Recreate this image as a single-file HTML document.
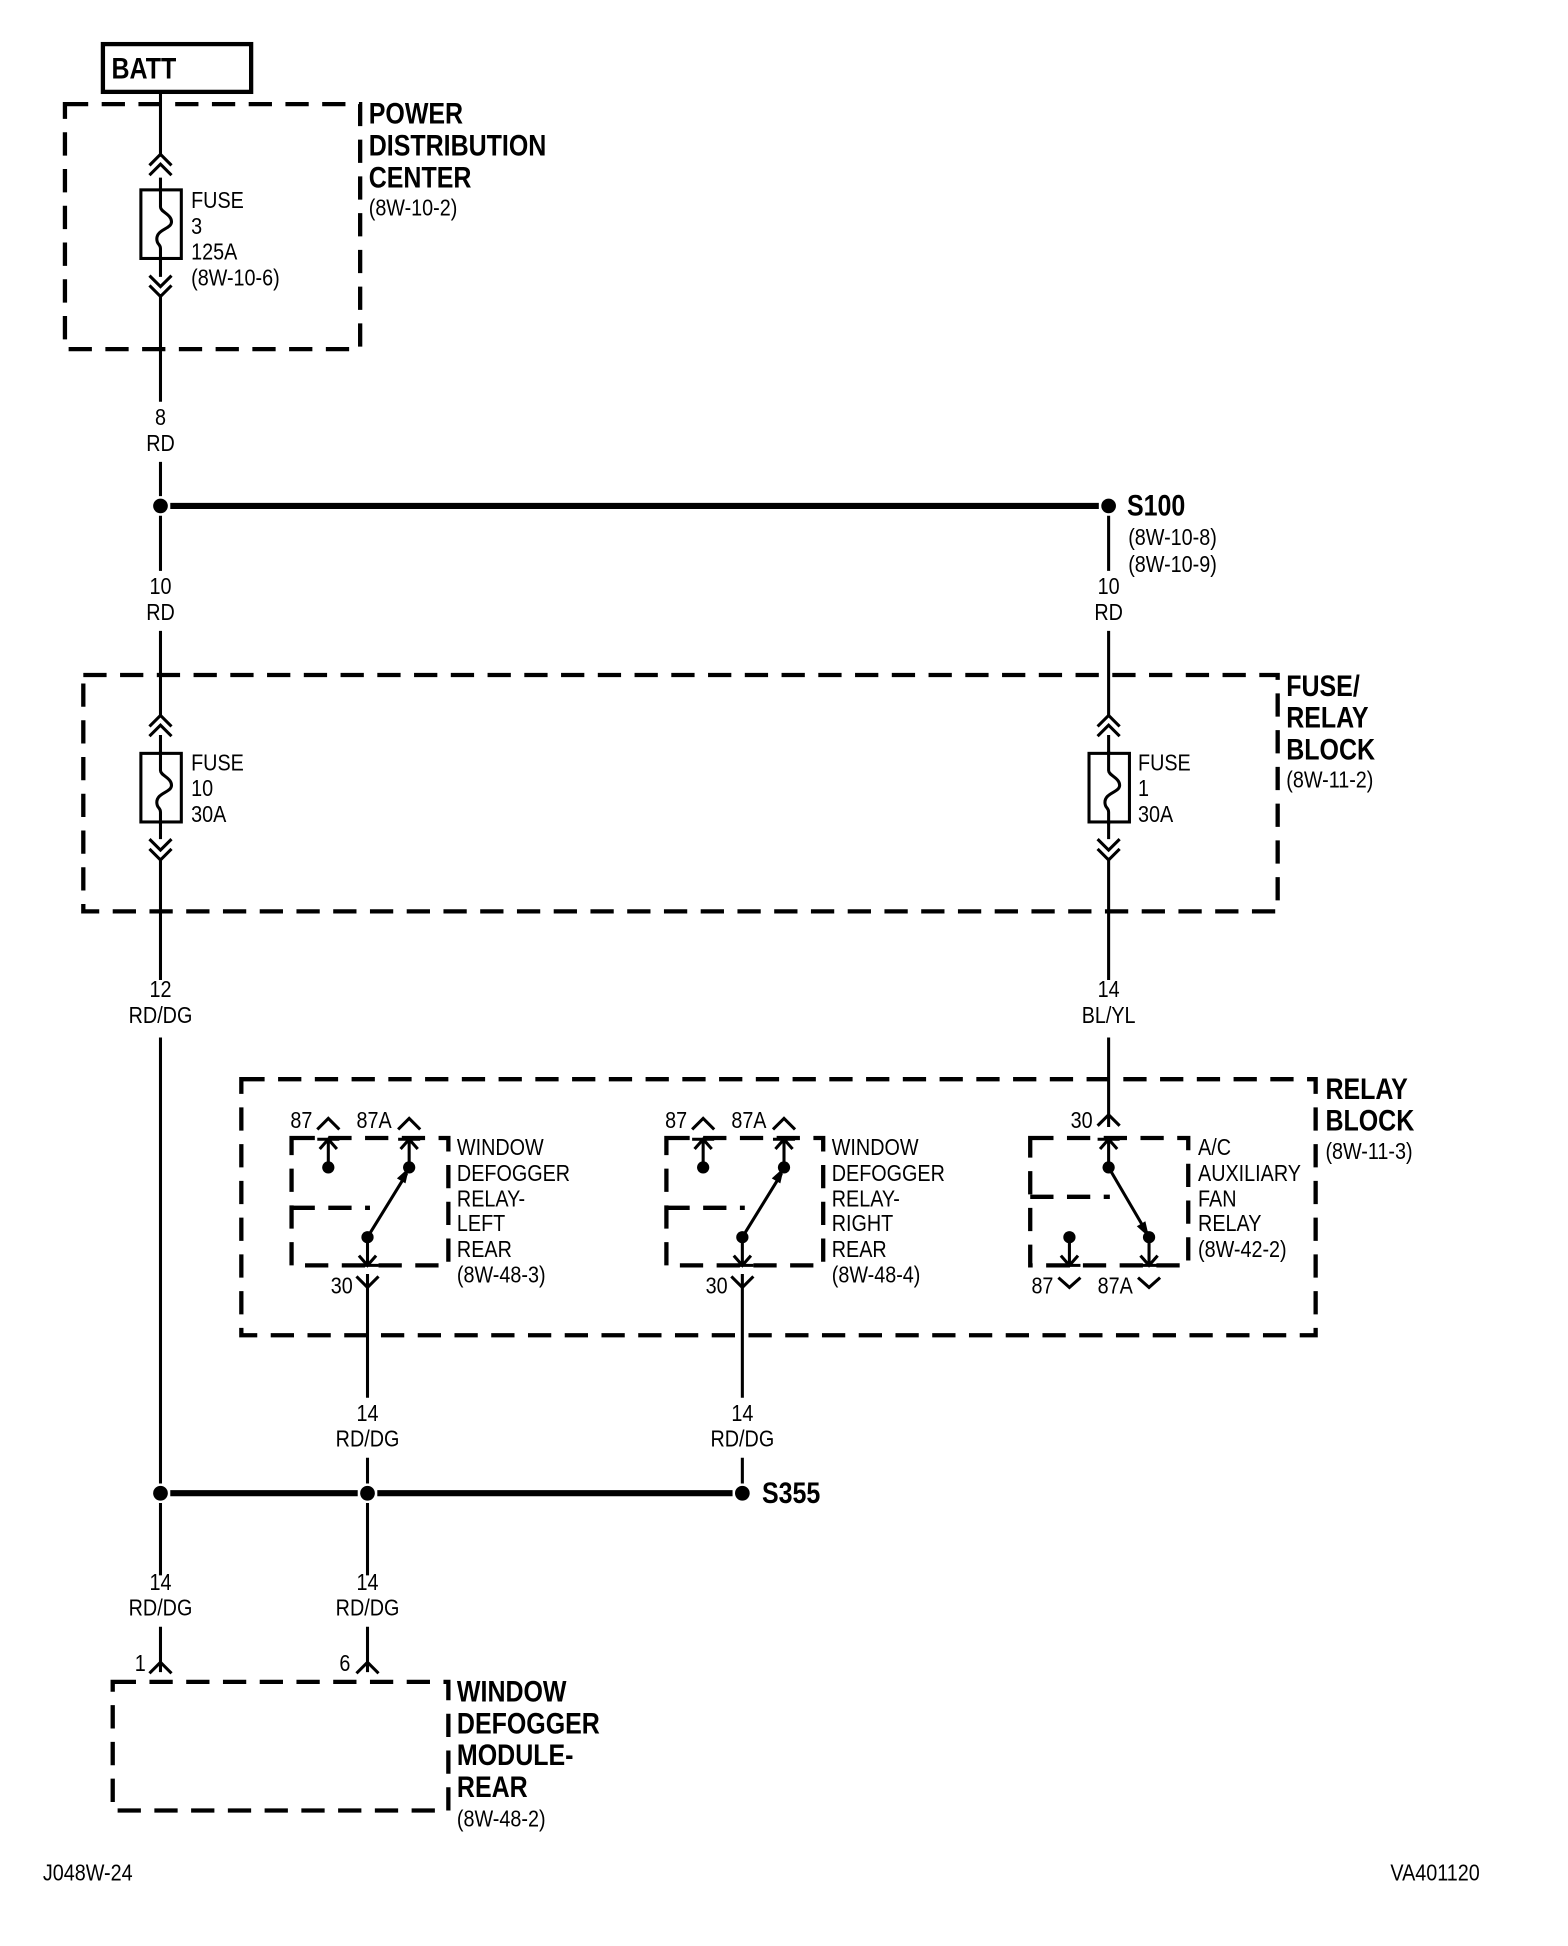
<!DOCTYPE html>
<html><head><meta charset="utf-8"><style>
html,body{margin:0;padding:0;background:#fff}
svg{display:block}
text{font-family:"Liberation Sans",Arial,sans-serif;fill:#000}
.s{font-size:19px}
.b{font-size:24px;font-weight:bold}
</style></head><body>
<svg width="1568" height="1946" viewBox="0 0 1280 1588.6" xmlns="http://www.w3.org/2000/svg">
<defs>
<g id="uu"><path d="M-9,9 L0,0 L9,9 M-9,17 L0,8 L9,17" fill="none" stroke="#000" stroke-width="2.5"/></g>
<g id="dd"><path d="M-9,-9 L0,0 L9,-9 M-9,-17 L0,-8 L9,-17" fill="none" stroke="#000" stroke-width="2.5"/></g>
<g id="fuse"><rect x="-16" y="0" width="33" height="56" fill="none" stroke="#000" stroke-width="2.5"/>
<path d="M0,-2 L0,14 C0,18 9,20 9,26 C9,32 -3,32 -3,40 C-3,45 0,44 0,48 L0,58" fill="none" stroke="#000" stroke-width="2.5"/></g>
</defs>
<g stroke="#000" fill="none">
<!-- BATT -->
<rect x="84" y="36" width="121" height="39" stroke-width="3.5"/>
<g stroke-width="3.5" stroke-dasharray="19,11">
<rect x="53" y="85" width="241" height="200"/>
<rect x="68" y="551" width="975" height="193"/>
<rect x="197" y="881" width="877" height="209"/>
<rect x="92" y="1373" width="274" height="105"/>
<rect x="238" y="929" width="128" height="104"/>
<rect x="544" y="929" width="128" height="104"/>
<rect x="841" y="929" width="129" height="104"/>
<path d="M238,986 H302 M544,986 H608 M841,977 H906"/>
</g>
<g stroke-width="2.5">
<!-- left main wire -->
<path d="M131,75 V128 M131,145 V155 M131,210 V226 M131,240 V328 M131,377 V405 M131,421 V466 M131,515 V584 M131,600 V616 M131,670 V685 M131,700 V800 M131,847 V1211 M131,1227 V1286 M131,1328 V1365"/>
<!-- right wire -->
<path d="M905,421 V466 M905,515 V584 M905,600 V616 M905,670 V685 M905,700 V800 M905,847 V920"/>
<!-- relay outputs -->
<path d="M300,1040 V1141 M300,1190 V1211 M300,1227 V1286 M300,1328 V1365 M606,1040 V1141 M606,1190 V1211"/>
</g>
<path d="M139,413 H897 M139,1219 H292 M308,1219 H598" stroke-width="5"/>
</g>
<g fill="#000">
<circle cx="131" cy="413" r="6"/><circle cx="905" cy="413" r="6"/>
<circle cx="131" cy="1219" r="6"/><circle cx="300" cy="1219" r="6"/><circle cx="606" cy="1219" r="6"/>
</g>
<!-- fuses -->
<use href="#uu" x="131" y="126"/><use href="#fuse" x="131" y="155"/><use href="#dd" x="131" y="242"/>
<use href="#uu" x="131" y="584"/><use href="#fuse" x="131" y="615"/><use href="#dd" x="131" y="702"/>
<use href="#uu" x="905" y="584"/><use href="#fuse" x="905" y="615"/><use href="#dd" x="905" y="702"/>

<!-- relay symbols -->
<g stroke="#000" stroke-width="2.5" fill="none">
<!-- left relay: pins -->
<path d="M259,922 L268,913 L277,922 M325,922 L334,913 L343,922"/>
<path d="M259,930 H277 M268,930 V953 M261,938 L268,930 L275,938 M325,930 H343 M334,930 V953 M327,938 L334,930 L341,938"/>
<path d="M300,1010 L332,958 M300,1010 V1033 M291,1033 H309 M293,1025 L300,1033 L307,1025 M291,1042 L300,1051 L309,1042"/>
<!-- middle relay -->
<path d="M565,922 L574,913 L583,922 M631,922 L640,913 L649,922"/>
<path d="M565,930 H583 M574,930 V953 M567,938 L574,930 L581,938 M631,930 H649 M640,930 V953 M633,938 L640,930 L647,938"/>
<path d="M606,1010 L638,958 M606,1010 V1033 M597,1033 H615 M599,1025 L606,1033 L613,1025 M597,1042 L606,1051 L615,1042"/>
<!-- AC relay -->
<path d="M896,919 L905,910 L914,919 M896,930 H914 M905,930 V953 M898,938 L905,930 L912,938"/>
<path d="M905,953 L936,1006 M873,1010 V1033 M864,1033 H882 M866,1025 L873,1033 L880,1025 M938,1010 V1033 M929,1033 H947 M931,1025 L938,1033 L945,1025"/>
<path d="M864,1043 L873,1051 L882,1043 M929,1043 L938,1051 L947,1043"/>
<!-- module pins -->
<path d="M122,1366 L131,1357 L140,1366 M291,1366 L300,1357 L309,1366"/>
</g>
<g fill="#000">
<circle cx="268" cy="953" r="5"/><circle cx="334" cy="953" r="5"/><circle cx="300" cy="1010" r="5"/>
<path d="M334,953 L324,962 L331,966 Z"/>
<circle cx="574" cy="953" r="5"/><circle cx="640" cy="953" r="5"/><circle cx="606" cy="1010" r="5"/>
<path d="M640,953 L630,962 L637,966 Z"/>
<circle cx="905" cy="953" r="5"/><circle cx="873" cy="1010" r="5"/><circle cx="938" cy="1010" r="5"/>
<path d="M938,1010 L928,1001 L935,997 Z"/>
</g>

<!-- text -->
<g class="b">
<text transform="translate(91,64) scale(.85,1)">BATT</text>
<text transform="translate(301,101) scale(.85,1)">POWER</text>
<text transform="translate(301,127) scale(.85,1)">DISTRIBUTION</text>
<text transform="translate(301,153) scale(.85,1)">CENTER</text>
<text transform="translate(920,421) scale(.85,1)">S100</text>
<text transform="translate(1050,568) scale(.85,1)">FUSE/</text>
<text transform="translate(1050,594) scale(.85,1)">RELAY</text>
<text transform="translate(1050,620) scale(.85,1)">BLOCK</text>
<text transform="translate(1082,897) scale(.85,1)">RELAY</text>
<text transform="translate(1082,923) scale(.85,1)">BLOCK</text>
<text transform="translate(622,1227) scale(.85,1)">S355</text>
<text transform="translate(373,1389) scale(.85,1)">WINDOW</text>
<text transform="translate(373,1415) scale(.85,1)">DEFOGGER</text>
<text transform="translate(373,1441) scale(.85,1)">MODULE-</text>
<text transform="translate(373,1467) scale(.85,1)">REAR</text>
</g>
<g class="s">
<text transform="translate(301,176) scale(.85,1)">(8W-10-2)</text>
<text transform="translate(156,170) scale(.85,1)">FUSE</text>
<text transform="translate(156,191) scale(.85,1)">3</text>
<text transform="translate(156,212) scale(.85,1)">125A</text>
<text transform="translate(156,233) scale(.85,1)">(8W-10-6)</text>
<text text-anchor="middle" transform="translate(131,347) scale(.85,1)">8</text>
<text text-anchor="middle" transform="translate(131,368) scale(.85,1)">RD</text>
<text transform="translate(921,445) scale(.85,1)">(8W-10-8)</text>
<text transform="translate(921,467) scale(.85,1)">(8W-10-9)</text>
<text text-anchor="middle" transform="translate(131,485) scale(.85,1)">10</text>
<text text-anchor="middle" transform="translate(131,506) scale(.85,1)">RD</text>
<text text-anchor="middle" transform="translate(905,485) scale(.85,1)">10</text>
<text text-anchor="middle" transform="translate(905,506) scale(.85,1)">RD</text>
<text transform="translate(1050,643) scale(.85,1)">(8W-11-2)</text>
<text transform="translate(156,629) scale(.85,1)">FUSE</text>
<text transform="translate(156,650) scale(.85,1)">10</text>
<text transform="translate(156,671) scale(.85,1)">30A</text>
<text transform="translate(929,629) scale(.85,1)">FUSE</text>
<text transform="translate(929,650) scale(.85,1)">1</text>
<text transform="translate(929,671) scale(.85,1)">30A</text>
<text text-anchor="middle" transform="translate(131,814) scale(.85,1)">12</text>
<text text-anchor="middle" transform="translate(131,835) scale(.85,1)">RD/DG</text>
<text text-anchor="middle" transform="translate(905,814) scale(.85,1)">14</text>
<text text-anchor="middle" transform="translate(905,835) scale(.85,1)">BL/YL</text>
<text transform="translate(1082,946) scale(.85,1)">(8W-11-3)</text>
<!-- left relay -->
<text transform="translate(237,921) scale(.85,1)">87</text>
<text transform="translate(291,921) scale(.85,1)">87A</text>
<text transform="translate(373,943) scale(.85,1)">WINDOW</text>
<text transform="translate(373,964) scale(.85,1)">DEFOGGER</text>
<text transform="translate(373,985) scale(.85,1)">RELAY-</text>
<text transform="translate(373,1005) scale(.85,1)">LEFT</text>
<text transform="translate(373,1026) scale(.85,1)">REAR</text>
<text transform="translate(373,1047) scale(.85,1)">(8W-48-3)</text>
<text transform="translate(270,1056) scale(.85,1)">30</text>
<!-- middle relay -->
<text transform="translate(543,921) scale(.85,1)">87</text>
<text transform="translate(597,921) scale(.85,1)">87A</text>
<text transform="translate(679,943) scale(.85,1)">WINDOW</text>
<text transform="translate(679,964) scale(.85,1)">DEFOGGER</text>
<text transform="translate(679,985) scale(.85,1)">RELAY-</text>
<text transform="translate(679,1005) scale(.85,1)">RIGHT</text>
<text transform="translate(679,1026) scale(.85,1)">REAR</text>
<text transform="translate(679,1047) scale(.85,1)">(8W-48-4)</text>
<text transform="translate(576,1056) scale(.85,1)">30</text>
<!-- AC relay -->
<text transform="translate(874,921) scale(.85,1)">30</text>
<text transform="translate(978,943) scale(.85,1)">A/C</text>
<text transform="translate(978,964) scale(.85,1)">AUXILIARY</text>
<text transform="translate(978,985) scale(.85,1)">FAN</text>
<text transform="translate(978,1005) scale(.85,1)">RELAY</text>
<text transform="translate(978,1026) scale(.85,1)">(8W-42-2)</text>
<text transform="translate(842,1056) scale(.85,1)">87</text>
<text transform="translate(896,1056) scale(.85,1)">87A</text>
<!-- lower wires -->
<text text-anchor="middle" transform="translate(300,1160) scale(.85,1)">14</text>
<text text-anchor="middle" transform="translate(300,1181) scale(.85,1)">RD/DG</text>
<text text-anchor="middle" transform="translate(606,1160) scale(.85,1)">14</text>
<text text-anchor="middle" transform="translate(606,1181) scale(.85,1)">RD/DG</text>
<text text-anchor="middle" transform="translate(131,1298) scale(.85,1)">14</text>
<text text-anchor="middle" transform="translate(131,1319) scale(.85,1)">RD/DG</text>
<text text-anchor="middle" transform="translate(300,1298) scale(.85,1)">14</text>
<text text-anchor="middle" transform="translate(300,1319) scale(.85,1)">RD/DG</text>
<text transform="translate(110,1364) scale(.85,1)">1</text>
<text transform="translate(277,1364) scale(.85,1)">6</text>
<text transform="translate(373,1491) scale(.85,1)">(8W-48-2)</text>
<text transform="translate(35,1535) scale(.85,1)">J048W-24</text>
<text transform="translate(1135,1535) scale(.85,1)">VA401120</text>
</g>
</svg>
</body></html>
